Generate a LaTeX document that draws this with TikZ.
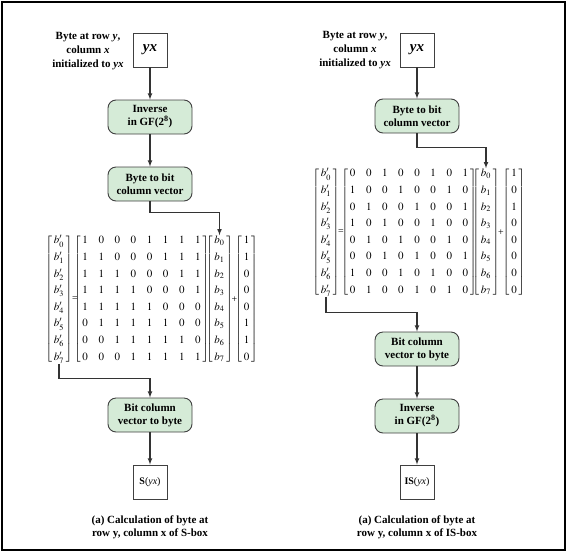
\documentclass[tikz,border=0pt]{standalone}
\usepackage{mathptmx}
\usepackage{fontspec}
\setmainfont{Liberation Serif}
\usetikzlibrary{matrix}
\definecolor{boxgreen}{RGB}{213,235,215}
\definecolor{edgegray}{RGB}{64,64,64}
\tikzset{
  greenbox/.style={draw=edgegray, fill=boxgreen, rounded corners=8pt, line width=0.9pt,
    minimum width=84pt, minimum height=34pt, align=center,
    font=\bfseries\fontsize{11}{13}\selectfont},
  valbox/.style={draw=edgegray, line width=0.9pt, minimum width=34pt, minimum height=34pt, inner sep=0pt},
  flow/.style={-latex, line width=1.1pt, draw=black!80},
  mat/.style={matrix of math nodes, left delimiter={[}, right delimiter={]},
    row sep=4.6pt, column sep=9.6pt, inner sep=0pt,
    nodes={text height=8pt, text depth=3pt, inner sep=0.5pt, font=\fontsize{11}{13}\selectfont}},
  note/.style={align=center, font=\bfseries\fontsize{11}{14}\selectfont}
}

\begin{document}
\begin{tikzpicture}[x=1pt,y=-1pt]
\useasboundingbox (0,0) rectangle (567,552);
\draw[line width=1.2pt] (2,2) rectangle (565,550);

% left: S-box
\node[note] (lnote) at (88,51) {Byte at row \textit{y},\\column \textit{x}\\initialized to \textit{yx}};
\node[valbox, font=\bfseries\itshape\fontsize{15}{18}\selectfont] (lyx) at (150,50) {yx};
\node[greenbox] (linv) at (150,117) {Inverse\\in GF(2\textsuperscript{8})};
\node[greenbox] (lbyte) at (150,184) {Byte to bit\\column vector};

\matrix[mat] (lbp) at (59,299.5) {
  b'_0\\ b'_1\\ b'_2\\ b'_3\\ b'_4\\ b'_5\\ b'_6\\ b'_7\\
};
\node (leq) at (75,299.5) {=};
\matrix[mat] (lA) at (141.5,299.5) {
  1 & 0 & 0 & 0 & 1 & 1 & 1 & 1\\
  1 & 1 & 0 & 0 & 0 & 1 & 1 & 1\\
  1 & 1 & 1 & 0 & 0 & 0 & 1 & 1\\
  1 & 1 & 1 & 1 & 0 & 0 & 0 & 1\\
  1 & 1 & 1 & 1 & 1 & 0 & 0 & 0\\
  0 & 1 & 1 & 1 & 1 & 1 & 0 & 0\\
  0 & 0 & 1 & 1 & 1 & 1 & 1 & 0\\
  0 & 0 & 0 & 1 & 1 & 1 & 1 & 1\\
};
\matrix[mat] (lb) at (219.5,299.5) {
  b_0\\ b_1\\ b_2\\ b_3\\ b_4\\ b_5\\ b_6\\ b_7\\
};
\node (lplus) at (234.5,299.5) {+};
\matrix[mat] (lc) at (246.5,299.5) {
  1\\ 1\\ 0\\ 0\\ 0\\ 1\\ 1\\ 0\\
};

\node[greenbox] (lbcv) at (150,415) {Bit column\\vector to byte};
\node[valbox, font=\fontsize{10}{12}\selectfont] (ls) at (150,482) {\textbf{S}(\textit{yx})};
\node[note, font=\bfseries\fontsize{11}{13}\selectfont] (lcap) at (150,527) {(a) Calculation of byte at\\row y, column x of S-box};

\draw[flow] (lyx) -- (linv);
\draw[flow] (linv) -- (lbyte);
\draw[flow] (lbyte.south) -- ++(0,11) -| (lb.north);
\draw[flow] (lbp.south) -- ++(0,15) -| (lbcv.north);
\draw[flow] (lbcv) -- (ls);

% right: IS-box
\node[note] (rnote) at (355,50) {Byte at row \textit{y},\\column \textit{x}\\initialized to \textit{yx}};
\node[valbox, font=\bfseries\itshape\fontsize{15}{18}\selectfont] (ryx) at (417,50) {yx};
\node[greenbox] (rbyte) at (417,116) {Byte to bit\\column vector};

\matrix[mat] (rbp) at (326,232.5) {
  b'_0\\ b'_1\\ b'_2\\ b'_3\\ b'_4\\ b'_5\\ b'_6\\ b'_7\\
};
\node (req) at (341,232.5) {=};
\matrix[mat] (rA) at (409,232.5) {
  0 & 0 & 1 & 0 & 0 & 1 & 0 & 1\\
  1 & 0 & 0 & 1 & 0 & 0 & 1 & 0\\
  0 & 1 & 0 & 0 & 1 & 0 & 0 & 1\\
  1 & 0 & 1 & 0 & 0 & 1 & 0 & 0\\
  0 & 1 & 0 & 1 & 0 & 0 & 1 & 0\\
  0 & 0 & 1 & 0 & 1 & 0 & 0 & 1\\
  1 & 0 & 0 & 1 & 0 & 1 & 0 & 0\\
  0 & 1 & 0 & 0 & 1 & 0 & 1 & 0\\
};
\matrix[mat] (rb) at (486,232.5) {
  b_0\\ b_1\\ b_2\\ b_3\\ b_4\\ b_5\\ b_6\\ b_7\\
};
\node (rplus) at (501,232.5) {+};
\matrix[mat] (rc) at (514,232.5) {
  1\\ 0\\ 1\\ 0\\ 0\\ 0\\ 0\\ 0\\
};

\node[greenbox] (rbcv) at (417,349) {Bit column\\vector to byte};
\node[greenbox] (rinv) at (417,416) {Inverse\\in GF(2\textsuperscript{8})};
\node[valbox, font=\fontsize{10}{12}\selectfont] (ris) at (417,482) {\textbf{IS}(\textit{yx})};
\node[note, font=\bfseries\fontsize{11}{13}\selectfont] (rcap) at (417,527) {(a) Calculation of byte at\\row y, column x of IS-box};

\draw[flow] (ryx) -- (rbyte);
\draw[flow] (rbyte.south) -- ++(0,14) -| (rb.north);
\draw[flow] (rbp.south) -- ++(0,16) -| (rbcv.north);
\draw[flow] (rbcv) -- (rinv);
\draw[flow] (rinv) -- (ris);
\end{tikzpicture}
\end{document}
